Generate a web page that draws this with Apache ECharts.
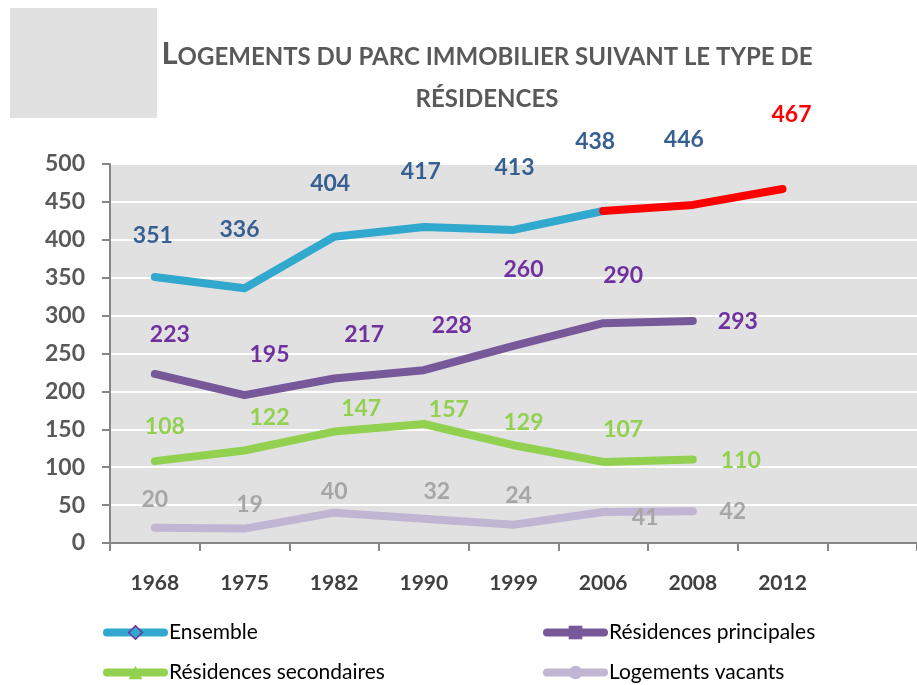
<!DOCTYPE html>
<html>
<head>
<meta charset="utf-8">
<script src="https://cdn.jsdelivr.net/npm/echarts@6/dist/echarts.min.js"></script>
<style>
  html, body { margin: 0; padding: 0; background: #fff; }
  #chart { width: 917px; height: 685px; }
</style>
</head>
<body>
<div id="chart"></div>
<script>
    // categories (last one empty, Excel kept a spare slot)
    var years = ['1968', '1975', '1982', '1990', '1999', '2006', '2008', '2012', ''];
    var yTicks = { min: 0, max: 500, step: 50 };

    // series values
    var ensemble    = [351, 336, 404, 417, 413, 438];
    var ensembleEnd = ['-', '-', '-', '-', '-', 438, 446, 467];
    var principales = [223, 195, 217, 228, 260, 290, 293];
    var secondaires = [108, 122, 147, 157, 129, 107, 110];
    var vacants     = [20, 19, 40, 32, 24, 41, 42];

    // where each value label sits relative to its point (dx, dy in px)
    var offEnsemble    = [[-2,-41], [-5,-59], [-4,-53], [-3,-55], [1,-62], [-8,-69]];
    var offEnsembleEnd = [null, null, null, null, null, null, [-9,-65], [9,-74]];
    var offPrincipales = [[15,-39], [25,-41], [30,-44], [28,-45], [10,-76], [20,-48], [45,1]];
    var offSecondaires = [[10,-35], [25,-33], [27,-23], [25,-14], [10,-23], [20,-32], [48,1]];
    var offVacants     = [[0,-28], [5,-24], [0,-21], [13,-27], [5,-29], [42,6], [40,0]];

    var FONT = 'Lato';

    function withLabels(values, offsets, color, overrides) {
        return values.map(function (v, i) {
            if (v === '-') return v;
            var off = offsets[i];
            if (!off) return { value: v, label: { show: false } };
            var lab = { show: true, offset: off, color: color };
            if (overrides && overrides[i]) lab.color = overrides[i];
            return { value: v, label: lab };
        });
    }

    function lineSeries(name, data, color, symbol) {
        return {
            name: name,
            type: 'line',
            data: data,
            symbol: symbol,
            symbolSize: 1,
            showSymbol: true,
            itemStyle: { color: color },
            lineStyle: { color: color, width: 8, cap: 'round', join: 'round' },
            label: {
                show: true,
                position: 'inside',
                fontFamily: FONT,
                fontWeight: 'bold',
                fontSize: 23,
                align: 'center',
                verticalAlign: 'middle'
            },
            emphasis: { disabled: true },
            animation: false
        };
    }

    var chart = echarts.init(document.getElementById('chart'));

    var legendText = { fontFamily: FONT, fontSize: 21, color: '#000' };
    function legendAt(name, left, top, color, itemStyle) {
        return {
            data: [{
                name: name,
                itemStyle: itemStyle,
                lineStyle: { color: color, width: 8, cap: 'round' }
            }],
            left: left,
            top: top,
            itemWidth: 57,
            itemHeight: 17,
            itemGap: 0,
            padding: 0,
            textStyle: legendText,
            selectedMode: false
        };
    }

    var option = {
        backgroundColor: '#fff',
        graphic: [
            {
                type: 'rect',
                shape: { x: 10, y: 8, width: 147, height: 110 },
                style: { fill: '#e1e1e1' },
                silent: true
            },
            {
                type: 'text',
                x: 487,
                y: 27,
                style: {
                    text: '{b|L}{s|OGEMENTS DU PARC IMMOBILIER SUIVANT LE TYPE DE}\n{s|RÉSIDENCES}',
                    align: 'center',
                    fill: '#595959',
                    rich: {
                        b: { fontFamily: FONT, fontWeight: 'bold', fontSize: 31, color: '#595959', lineHeight: 42, verticalAlign: 'bottom' },
                        s: { fontFamily: FONT, fontWeight: 'bold', fontSize: 24, color: '#595959', lineHeight: 42, verticalAlign: 'bottom' }
                    }
                },
                silent: true
            }
        ],
        legend: [
            legendAt('Ensemble', 103, 622, '#31a8cd', { color: '#31a8cd', borderColor: '#7030a0', borderWidth: 1.5 }),
            legendAt('Résidences principales', 543, 622, '#77599a', { color: '#77599a' }),
            legendAt('Résidences secondaires', 103, 662, '#92d050', { color: '#92d050' }),
            legendAt('Logements vacants', 543, 662, '#c0b5d3', { color: '#c0b5d3' })
        ],
        grid: {
            left: 110,
            right: -3,
            top: 164,
            bottom: 142,
            show: true,
            backgroundColor: '#e1e1e1',
            borderWidth: 0
        },
        xAxis: {
            type: 'category',
            data: years,
            boundaryGap: true,
            axisLine: { show: true, lineStyle: { color: '#868686', width: 2 } },
            axisTick: { show: true, length: 8, interval: 0, lineStyle: { color: '#868686', width: 2 } },
            axisLabel: {
                interval: 0,
                margin: 30,
                fontFamily: FONT,
                fontWeight: 'bold',
                fontSize: 21,
                color: '#404040'
            },
            splitLine: { show: false }
        },
        yAxis: {
            type: 'value',
            min: yTicks.min,
            max: yTicks.max,
            interval: yTicks.step,
            axisLine: { show: true, lineStyle: { color: '#868686', width: 2 } },
            axisTick: { show: true, length: 8, lineStyle: { color: '#868686', width: 2 } },
            axisLabel: {
                margin: 25,
                fontFamily: FONT,
                fontWeight: 'bold',
                fontSize: 23,
                color: '#595959'
            },
            splitLine: { show: true, lineStyle: { color: '#ffffff', width: 2 } }
        },
        series: [
            lineSeries('Ensemble', withLabels(ensemble, offEnsemble, '#376092'), '#31a8cd', 'diamond'),
            (function () {
                var s = lineSeries('Ensemble 2006-2012', withLabels(ensembleEnd, offEnsembleEnd, '#376092', { 7: '#ff0000' }), '#ff0000', 'circle');
                s.z = 3;
                return s;
            })(),
            lineSeries('Résidences principales', withLabels(principales, offPrincipales, '#7030a0'), '#77599a', 'rect'),
            lineSeries('Résidences secondaires', withLabels(secondaires, offSecondaires, '#92d050'), '#92d050', 'triangle'),
            lineSeries('Logements vacants', withLabels(vacants, offVacants, '#a6a6a6'), '#c0b5d3', 'circle')
        ]
    };

    chart.setOption(option);
</script>
</body>
</html>
